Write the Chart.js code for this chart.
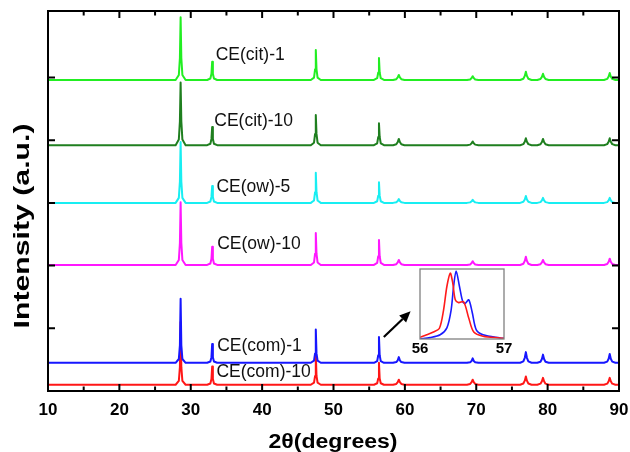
<!DOCTYPE html>
<html>
<head>
<meta charset="utf-8">
<script src="https://cdn.jsdelivr.net/npm/chart.js@4.4.1/dist/chart.umd.min.js"></script>
<style>
  html, body { margin: 0; padding: 0; background: #fff; }
  #wrap { position: relative; width: 630px; height: 452px; overflow: hidden; background: #fff; }
  #main { position: absolute; left: 0; top: 0; }
  #inset { position: absolute; left: 405px; top: 262px; }
</style>
</head>
<body>
<div id="wrap">
  <canvas id="main" width="630" height="452"></canvas>
  <canvas id="inset" width="115" height="100"></canvas>
</div>
<script>
// 2θ sampling: pattern ends plus foot / flank / shoulder / apex / shoulder / flank / foot of each reflection
const twoTheta = [
  10,
  27.88, 28.33, 28.48, 28.58, 28.68, 28.83, 29.28,
  32.30, 32.75, 32.90, 33.00, 33.10, 33.25, 33.70,
  46.82, 47.27, 47.42, 47.52, 47.62, 47.77, 48.22,
  55.67, 56.12, 56.27, 56.37, 56.47, 56.62, 57.07,
  58.35, 58.80, 59.00, 59.15, 59.30, 59.50, 59.95,
  68.70, 69.15, 69.35, 69.50, 69.65, 69.85, 70.30,
  76.15, 76.60, 76.80, 76.95, 77.10, 77.30, 77.75,
  78.55, 79.00, 79.20, 79.35, 79.50, 79.70, 80.15,
  87.90, 88.35, 88.55, 88.70, 88.85, 89.05, 89.50,
  90
];

// Normalised intensities (a.u.) on the 2θ grid above
const citOne = [
  0,
  0, 0.08, 0.35, 1.00, 0.35, 0.08, 0,
  0, 0.023, 0.10, 0.29, 0.10, 0.023, 0,
  0, 0.038, 0.17, 0.48, 0.17, 0.038, 0,
  0, 0.028, 0.12, 0.35, 0.12, 0.028, 0,
  0, 0.012, 0.04, 0.08, 0.04, 0.012, 0,
  0, 0.009, 0.03, 0.06, 0.03, 0.009, 0,
  0, 0.02, 0.065, 0.13, 0.065, 0.02, 0,
  0, 0.015, 0.05, 0.10, 0.05, 0.015, 0,
  0, 0.017, 0.055, 0.11, 0.055, 0.017, 0,
  0
];
const citTen = [
  0,
  0, 0.09, 0.38, 1.00, 0.38, 0.09, 0,
  0, 0.023, 0.10, 0.29, 0.10, 0.023, 0,
  0, 0.04, 0.18, 0.48, 0.18, 0.04, 0,
  0, 0.03, 0.13, 0.35, 0.13, 0.03, 0,
  0, 0.015, 0.05, 0.10, 0.05, 0.015, 0,
  0, 0.009, 0.03, 0.06, 0.03, 0.009, 0,
  0, 0.017, 0.055, 0.11, 0.055, 0.017, 0,
  0, 0.015, 0.05, 0.10, 0.05, 0.015, 0,
  0, 0.017, 0.055, 0.11, 0.055, 0.017, 0,
  0
];
const owFive = [
  0,
  0, 0.08, 0.34, 0.97, 0.34, 0.08, 0,
  0, 0.022, 0.095, 0.27, 0.095, 0.022, 0,
  0, 0.038, 0.17, 0.48, 0.17, 0.038, 0,
  0, 0.026, 0.115, 0.33, 0.115, 0.026, 0,
  0, 0.009, 0.03, 0.06, 0.03, 0.009, 0,
  0, 0.008, 0.025, 0.05, 0.025, 0.008, 0,
  0, 0.017, 0.055, 0.11, 0.055, 0.017, 0,
  0, 0.012, 0.04, 0.08, 0.04, 0.012, 0,
  0, 0.012, 0.04, 0.08, 0.04, 0.012, 0,
  0
];
const owTen = [
  0,
  0, 0.08, 0.35, 1.00, 0.35, 0.08, 0,
  0, 0.023, 0.10, 0.29, 0.10, 0.023, 0,
  0, 0.04, 0.18, 0.51, 0.18, 0.04, 0,
  0, 0.032, 0.14, 0.40, 0.14, 0.032, 0,
  0, 0.012, 0.04, 0.08, 0.04, 0.012, 0,
  0, 0.009, 0.03, 0.06, 0.03, 0.009, 0,
  0, 0.02, 0.065, 0.13, 0.065, 0.02, 0,
  0, 0.012, 0.04, 0.08, 0.04, 0.012, 0,
  0, 0.015, 0.05, 0.10, 0.05, 0.015, 0,
  0
];
const comOne = [
  0,
  0, 0.06, 0.28, 1.02, 0.28, 0.06, 0,
  0, 0.02, 0.09, 0.30, 0.09, 0.02, 0,
  0, 0.035, 0.15, 0.53, 0.15, 0.035, 0,
  0, 0.027, 0.12, 0.41, 0.12, 0.027, 0,
  0, 0.012, 0.04, 0.09, 0.04, 0.012, 0,
  0, 0.01, 0.03, 0.07, 0.03, 0.01, 0,
  0, 0.022, 0.08, 0.17, 0.08, 0.022, 0,
  0, 0.017, 0.06, 0.13, 0.06, 0.017, 0,
  0, 0.018, 0.065, 0.14, 0.065, 0.018, 0,
  0
];
const comTen = [
  0,
  0, 0.06, 0.28, 1.00, 0.28, 0.06, 0,
  0, 0.02, 0.09, 0.29, 0.09, 0.02, 0,
  0, 0.033, 0.14, 0.49, 0.14, 0.033, 0,
  0, 0.024, 0.10, 0.35, 0.10, 0.024, 0,
  0, 0.012, 0.04, 0.08, 0.04, 0.012, 0,
  0, 0.012, 0.04, 0.08, 0.04, 0.012, 0,
  0, 0.02, 0.065, 0.13, 0.065, 0.02, 0,
  0, 0.017, 0.055, 0.11, 0.055, 0.017, 0,
  0, 0.017, 0.055, 0.11, 0.055, 0.017, 0,
  0
];

// Sample names, vertical stacking offsets and line colours (top to bottom)
const sampleNames = ['CE(cit)-1', 'CE(cit)-10', 'CE(ow)-5', 'CE(ow)-10', 'CE(com)-1', 'CE(com)-10'];
const stackOffsets = [4.96, 3.92, 3.00, 2.01, 0.45, 0.10];
const lineColors = ['#22ee22', '#1f7f1f', '#18eef2', '#ff18ff', '#1616ff', '#ff1616'];
const sampleSeries = [citOne, citTen, owFive, owTen, comOne, comTen];

// Where each sample name sits, in (2θ, intensity) units
const nameAnchorX = [33.5, 33.3, 33.6, 33.7, 33.7, 33.6];
const nameAnchorY = [5.36, 4.31, 3.25, 2.34, 0.72, 0.30];

// Axis ticks
const xTickStep = 5;
const yTickValues = [1, 2, 3, 4, 5];

// Enlarged region near 56.3° for CE(com)-10 (red) and CE(com)-1 (blue)
const insetThetaRed  = [56.00, 56.08, 56.16, 56.23, 56.28, 56.32, 56.36, 56.39, 56.42, 56.46, 56.52, 56.58, 56.64, 56.75, 56.95, 57.00];
const insetRed       = [0.025, 0.06, 0.10, 0.15, 0.41, 0.75, 0.94, 0.80, 0.56, 0.52, 0.53, 0.30, 0.10, 0.04, 0.015, 0.01];
const insetThetaBlue = [56.00, 56.12, 56.24, 56.32, 56.37, 56.40, 56.43, 56.47, 56.51, 56.54, 56.58, 56.62, 56.67, 56.75, 56.95, 57.00];
const insetBlue      = [0.00, 0.02, 0.06, 0.16, 0.41, 0.75, 0.97, 0.75, 0.53, 0.51, 0.56, 0.39, 0.13, 0.06, 0.015, 0.01];

// Arrow pointing from the 56.3° reflection to the inset, in (2θ, intensity) units
const arrowFrom = [57.05, 0.86];
const arrowTo = [60.8, 1.27];

const FONT = '"Liberation Sans", Arial, Helvetica, sans-serif';

function stretchedText(ctx, text, cx, cy, font, targetLen, angle) {
  ctx.save();
  ctx.font = font;
  const w = ctx.measureText(text).width;
  ctx.translate(cx, cy);
  ctx.rotate(angle);
  ctx.scale(targetLen / w, 1);
  ctx.textAlign = 'center';
  ctx.textBaseline = 'middle';
  ctx.fillStyle = '#000';
  ctx.fillText(text, 0, 0);
  ctx.restore();
}

const framePlugin = {
  id: 'frame',
  afterDraw(chart) {
    const { ctx, chartArea: a, scales: { x, y } } = chart;
    ctx.save();
    ctx.strokeStyle = '#000';
    ctx.lineWidth = 2;
    ctx.strokeRect(a.left, a.top, a.right - a.left, a.bottom - a.top);
    ctx.beginPath();
    x.ticks.forEach(t => {
      if (t.value <= x.min || t.value >= x.max) return;
      const px = x.getPixelForValue(t.value);
      const len = t.value % 10 === 0 ? 7 : 4.5;
      ctx.moveTo(px, a.bottom); ctx.lineTo(px, a.bottom - len);
      ctx.moveTo(px, a.top); ctx.lineTo(px, a.top + len);
    });
    y.ticks.forEach(t => {
      const py = y.getPixelForValue(t.value);
      ctx.moveTo(a.left, py); ctx.lineTo(a.left + 7, py);
      ctx.moveTo(a.right, py); ctx.lineTo(a.right - 7, py);
    });
    ctx.stroke();

    // sample names
    ctx.font = '17.5px ' + FONT;
    ctx.fillStyle = '#111';
    ctx.textAlign = 'left';
    ctx.textBaseline = 'middle';
    sampleNames.forEach((n, i) => {
      ctx.fillText(n, x.getPixelForValue(nameAnchorX[i]), y.getPixelForValue(nameAnchorY[i]));
    });

    // arrow
    const x0 = x.getPixelForValue(arrowFrom[0]), y0 = y.getPixelForValue(arrowFrom[1]);
    const x1 = x.getPixelForValue(arrowTo[0]), y1 = y.getPixelForValue(arrowTo[1]);
    const ang = Math.atan2(y1 - y0, x1 - x0);
    const hl = 11, hw = 5;
    const bx = x1 - hl * Math.cos(ang), by = y1 - hl * Math.sin(ang);
    ctx.strokeStyle = '#000';
    ctx.lineWidth = 2.2;
    ctx.beginPath(); ctx.moveTo(x0, y0); ctx.lineTo(bx, by); ctx.stroke();
    ctx.fillStyle = '#000';
    ctx.beginPath();
    ctx.moveTo(x1, y1);
    ctx.lineTo(bx + hw * Math.sin(ang), by - hw * Math.cos(ang));
    ctx.lineTo(bx - hw * Math.sin(ang), by + hw * Math.cos(ang));
    ctx.closePath(); ctx.fill();

    // axis titles
    stretchedText(ctx, '2θ(degrees)', 333, 442, 'bold 20px ' + FONT, 129, 0);
    stretchedText(ctx, 'Intensity (a.u.)', 23, 226, 'bold 22px ' + FONT, 205, -Math.PI / 2);
    ctx.restore();
  }
};

new Chart(document.getElementById('main'), {
  type: 'line',
  data: {
    datasets: sampleSeries.map((s, i) => ({
      label: sampleNames[i],
      data: twoTheta.map((t, k) => ({ x: t, y: stackOffsets[i] + s[k] })),
      borderColor: lineColors[i],
      borderWidth: 2,
      borderJoinStyle: 'round',
      pointRadius: 0,
      tension: 0,
      fill: false
    }))
  },
  options: {
    responsive: false,
    animation: false,
    layout: { padding: { top: 11, right: 11, left: 0, bottom: 0 } },
    plugins: { legend: { display: false }, tooltip: { enabled: false } },
    scales: {
      x: {
        type: 'linear', min: 10, max: 90,
        grid: { display: false, drawTicks: false },
        border: { display: false },
        ticks: {
          stepSize: xTickStep, autoSkip: false, maxRotation: 0, padding: 9,
          color: '#000', font: { family: FONT, size: 17, weight: 'bold' },
          callback: v => (v % 10 === 0 ? String(v) : '')
        },
        afterFit: s => { s.height = 61; s.paddingLeft = 0; s.paddingRight = 0; }
      },
      y: {
        type: 'linear', min: 0, max: 6.06,
        grid: { display: false, drawTicks: false },
        border: { display: false },
        ticks: { display: false },
        afterBuildTicks: s => { s.ticks = yTickValues.map(v => ({ value: v })); },
        afterFit: s => { s.width = 48; }
      }
    }
  },
  plugins: [framePlugin]
});

const insetFrame = {
  id: 'insetFrame',
  afterDraw(chart) {
    const { ctx, chartArea: a } = chart;
    ctx.save();
    ctx.strokeStyle = '#808080';
    ctx.lineWidth = 1.3;
    ctx.strokeRect(a.left, a.top, a.right - a.left, a.bottom - a.top);
    ctx.restore();
  }
};

new Chart(document.getElementById('inset'), {
  type: 'line',
  data: {
    datasets: [
      { data: insetThetaRed.map((t, k) => ({ x: t, y: insetRed[k] })), borderColor: '#ff1a1a', borderWidth: 1.6, pointRadius: 0, tension: 0.3 },
      { data: insetThetaBlue.map((t, k) => ({ x: t, y: insetBlue[k] })), borderColor: '#1a1aff', borderWidth: 1.6, pointRadius: 0, tension: 0.3 }
    ]
  },
  options: {
    responsive: false,
    animation: false,
    layout: { padding: { top: 7, right: 16, left: 15, bottom: 0 } },
    plugins: { legend: { display: false }, tooltip: { enabled: false } },
    scales: {
      x: {
        type: 'linear', min: 56, max: 57,
        grid: { display: false, drawTicks: false },
        border: { display: false },
        ticks: { stepSize: 1, padding: 1, maxRotation: 0, color: '#000', font: { family: FONT, size: 15, weight: 'bold' } },
        afterFit: s => { s.height = 23; s.paddingLeft = 0; s.paddingRight = 0; }
      },
      y: { type: 'linear', min: 0, max: 1.0, display: false }
    }
  },
  plugins: [insetFrame]
});
</script>
</body>
</html>
